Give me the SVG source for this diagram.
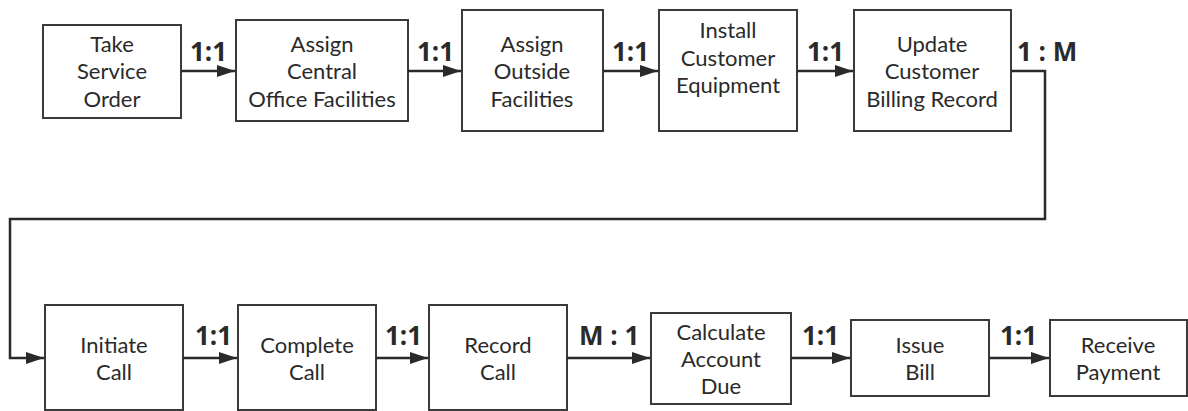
<svg xmlns="http://www.w3.org/2000/svg" width="1188" height="411" viewBox="0 0 1188 411">
<defs>
<marker id="ah" viewBox="0 0 18 12" refX="18" refY="6" markerWidth="18" markerHeight="12" markerUnits="userSpaceOnUse" orient="auto">
<path d="M0,0 L18,6 L0,12 Z" fill="#2a2a2a"/>
</marker>
<style>
.box{fill:#fff;stroke:#3a3a3a;stroke-width:2}
.t{font-family:Lato,"Noto Sans",sans-serif;font-size:22px;fill:#2a2a2a;text-anchor:middle}
.lbl{font-family:"Open Sans","Noto Sans",sans-serif;font-size:26px;font-weight:bold;fill:#2a2a2a}
.c{fill:none;stroke:#2a2a2a;stroke-width:2.5}
</style>
</defs>
<rect width="1188" height="411" fill="#fff"/>
<g id="n1"><rect class="box" x="43" y="25" width="138" height="93"/><text class="t" x="112" y="52">Take</text><text class="t" x="112" y="79">Service</text><text class="t" x="112" y="107">Order</text></g>
<g id="n2"><rect class="box" x="236" y="20" width="172" height="101"/><text class="t" x="322" y="52">Assign</text><text class="t" x="322" y="79">Central</text><text class="t" x="322" y="107">Office Facilities</text></g>
<g id="n3"><rect class="box" x="462" y="10" width="141" height="121"/><text class="t" x="532" y="52">Assign</text><text class="t" x="532" y="79">Outside</text><text class="t" x="532" y="107">Facilities</text></g>
<g id="n4"><rect class="box" x="659" y="10" width="138" height="121"/><text class="t" x="728" y="38">Install</text><text class="t" x="728" y="66">Customer</text><text class="t" x="728" y="93">Equipment</text></g>
<g id="n5"><rect class="box" x="854" y="10" width="157" height="121"/><text class="t" x="932" y="52">Update</text><text class="t" x="932" y="79">Customer</text><text class="t" x="932" y="107">Billing Record</text></g>
<g id="n6"><rect class="box" x="45" y="305" width="138" height="105"/><text class="t" x="114" y="353">Initiate</text><text class="t" x="114" y="380">Call</text></g>
<g id="n7"><rect class="box" x="238" y="305" width="138" height="105"/><text class="t" x="307" y="353">Complete</text><text class="t" x="307" y="380">Call</text></g>
<g id="n8"><rect class="box" x="429" y="305" width="138" height="105"/><text class="t" x="498" y="353">Record</text><text class="t" x="498" y="380">Call</text></g>
<g id="n9"><rect class="box" x="651" y="313" width="140" height="91"/><text class="t" x="721" y="340">Calculate</text><text class="t" x="721" y="367">Account</text><text class="t" x="721" y="394">Due</text></g>
<g id="n10"><rect class="box" x="851" y="320" width="138" height="76"/><text class="t" x="920" y="353">Issue</text><text class="t" x="920" y="380">Bill</text></g>
<g id="n11"><rect class="box" x="1050" y="320" width="137" height="76"/><text class="t" x="1118" y="353">Receive</text><text class="t" x="1118" y="380">Payment</text></g>
<g id="connectors">
<path class="c" d="M181,71 H235" marker-end="url(#ah)"/>
<path class="c" d="M408,71 H461" marker-end="url(#ah)"/>
<path class="c" d="M603,71 H658" marker-end="url(#ah)"/>
<path class="c" d="M797,71 H853" marker-end="url(#ah)"/>
<path class="c" d="M1011,71 H1045 V219 H10 V358 H44" marker-end="url(#ah)"/>
<path class="c" d="M183,358 H237" marker-end="url(#ah)"/>
<path class="c" d="M376,358 H428" marker-end="url(#ah)"/>
<path class="c" d="M567,358 H650" marker-end="url(#ah)"/>
<path class="c" d="M791,358 H850" marker-end="url(#ah)"/>
<path class="c" d="M989,358 H1049" marker-end="url(#ah)"/>
<text class="lbl" x="190" y="61">1:1</text>
<text class="lbl" x="417" y="61">1:1</text>
<text class="lbl" x="612" y="61">1:1</text>
<text class="lbl" x="807" y="61">1:1</text>
<text class="lbl" x="1017" y="61">1 : M</text>
<text class="lbl" x="195" y="345">1:1</text>
<text class="lbl" x="385" y="345">1:1</text>
<text class="lbl" x="579" y="345">M : 1</text>
<text class="lbl" x="802" y="345">1:1</text>
<text class="lbl" x="1000" y="345">1:1</text>
</g>
</svg>
